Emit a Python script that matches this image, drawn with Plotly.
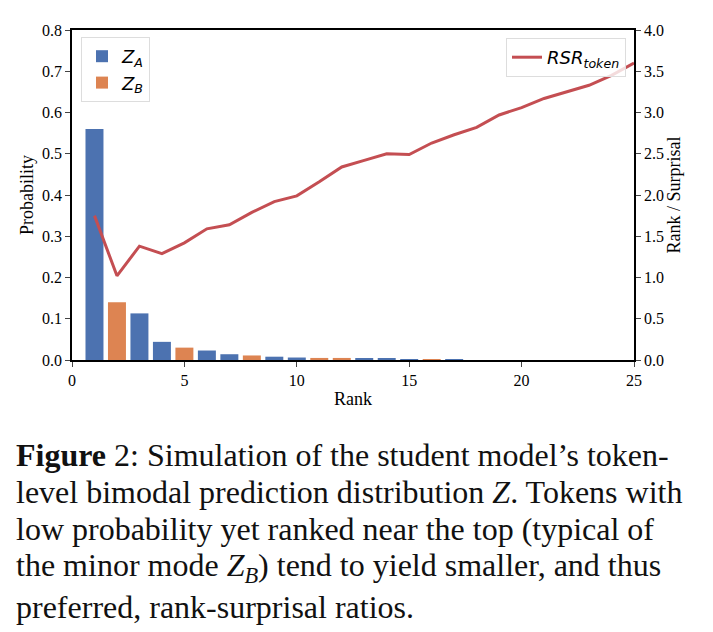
import plotly.graph_objects as go

ranks_a = [1, 3, 4, 6, 7, 9, 10, 13, 14, 15, 17]
prob_a = [0.560, 0.113, 0.044, 0.023, 0.014, 0.008, 0.006, 0.004, 0.003, 0.002, 0.001]
ranks_b = [2, 5, 8, 11, 12, 16]
prob_b = [0.140, 0.030, 0.011, 0.005, 0.005, 0.0015]
ranks_line = list(range(1, 26))
rsr = [1.75, 1.02, 1.38, 1.29, 1.42, 1.59, 1.64, 1.79, 1.92, 1.99, 2.16, 2.34, 2.42, 2.50, 2.49,
       2.63, 2.73, 2.82, 2.97, 3.06, 3.17, 3.25, 3.33, 3.45, 3.60]
caption_lines = [
    "<b>Figure</b> 2: Simulation of the student model’s token-",
    "level bimodal prediction distribution <i>Z</i>. Tokens with",
    "low probability yet ranked near the top (typical of",
    "the minor mode <i>Z</i><sub><i>B</i></sub>) tend to yield smaller, and thus"
    "<br>preferred, rank-surprisal ratios.",
]

BLUE = "#4C72B0"
ORANGE = "#DD8452"
RED = "#C44E52"
SERIF = "Liberation Serif, Times New Roman, serif"
SANS = "DejaVu Sans, sans-serif"

fig = go.Figure()
fig.add_trace(go.Bar(x=ranks_a, y=prob_a, width=0.8, marker=dict(color=BLUE, line=dict(width=0)),
                     name="<i>Z</i><sub><i>A</i></sub>", legend="legend"))
fig.add_trace(go.Bar(x=ranks_b, y=prob_b, width=0.8, marker=dict(color=ORANGE, line=dict(width=0)),
                     name="<i>Z</i><sub><i>B</i></sub>", legend="legend"))
fig.add_trace(go.Scatter(x=ranks_line, y=rsr, mode="lines", line=dict(color=RED, width=3),
                         name="<i>RSR</i><sub><i>token</i></sub>", yaxis="y2", legend="legend2"))

L, R, T, B = 72, 634, 30, 360
W, H = 713, 632
pw, ph = R - L, B - T

fig.update_layout(
    width=W, height=H,
    margin=dict(l=L, r=W - R, t=T, b=H - B),
    plot_bgcolor="white", paper_bgcolor="white",
    barmode="overlay",
    font=dict(family=SERIF, size=16, color="black"),
    xaxis=dict(range=[0, 25], tickvals=[0, 5, 10, 15, 20, 25], ticks="outside", ticklen=5,
               tickwidth=1.2, showline=True, linecolor="black", linewidth=1.5, mirror=True,
               showgrid=False, zeroline=False, title=dict(text="Rank", font=dict(size=18), standoff=4),
               tickfont=dict(size=16)),
    yaxis=dict(range=[0, 0.8], tickvals=[i / 10 for i in range(9)], tickformat=".1f",
               ticks="outside", ticklen=5, tickwidth=1.2, showline=True, linecolor="black",
               linewidth=1.5, showgrid=False, zeroline=False,
               title=dict(text="Probability", font=dict(size=18), standoff=4), tickfont=dict(size=16)),
    yaxis2=dict(range=[0, 4], tickvals=[i / 2 for i in range(9)], tickformat=".1f", overlaying="y",
                side="right", ticks="outside", ticklen=5, tickwidth=1.2, showline=True,
                linecolor="black", linewidth=1.5, showgrid=False, zeroline=False,
                title=dict(text="Rank / Surprisal", font=dict(size=18), standoff=4),
                tickfont=dict(size=16)),
    legend=dict(x=(81 - L) / pw, y=(B - 37) / ph, xanchor="left", yanchor="top",
                bgcolor="rgba(255,255,255,0.8)", bordercolor="#dddddd", borderwidth=1,
                font=dict(family=SANS, size=18), tracegroupgap=2),
    legend2=dict(x=(626 - L) / pw, y=(B - 38) / ph, xanchor="right", yanchor="top",
                 bgcolor="rgba(255,255,255,0.8)", bordercolor="#dddddd", borderwidth=1,
                 font=dict(family=SANS, size=18)),
    showlegend=True,
)

tops = [435, 472, 509, 545]
for txt, ytop in zip(caption_lines, tops):
    fig.add_annotation(text=txt, xref="paper", yref="paper", x=(14 - L) / pw, y=(B - ytop) / ph,
                       xanchor="left", yanchor="top", showarrow=False, align="left",
                       font=dict(family=SERIF, size=32, color="#111111"))

fig.write_html("out.html")
